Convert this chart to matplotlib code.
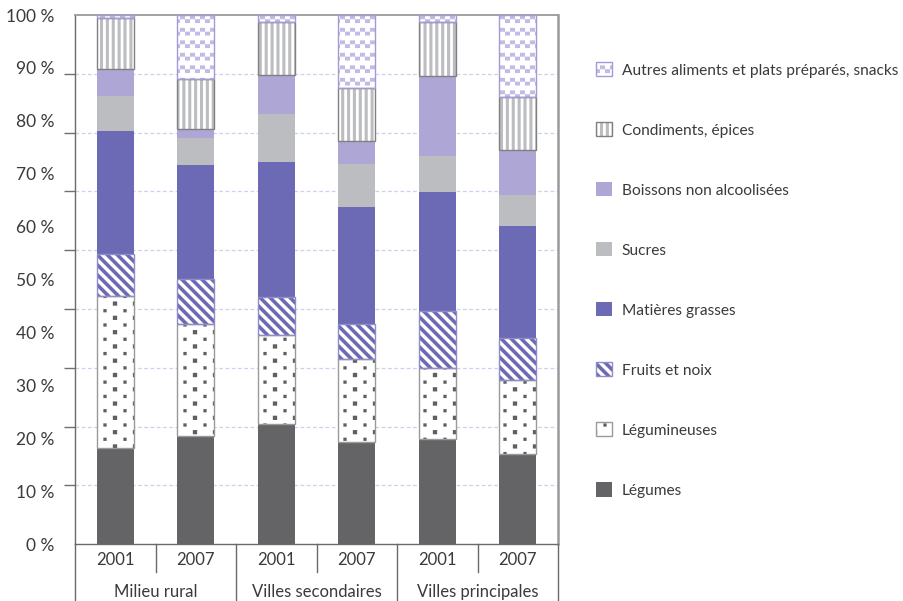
import numpy as np
import matplotlib
matplotlib.use('Agg')
import matplotlib.pyplot as plt
import matplotlib.hatch as mhatch
from matplotlib.path import Path
from matplotlib.patches import Patch
from matplotlib.legend_handler import HandlerTuple
from matplotlib.transforms import blended_transform_factory

# ---------------- data ----------------
groups = ['Milieu rural', 'Villes secondaires', 'Villes principales']
years = ['2001', '2007', '2001', '2007', '2001', '2007']
categories = ['Légumes', 'Légumineuses', 'Fruits et noix', 'Matières grasses',
              'Sucres', 'Boissons non alcoolisées', 'Condiments, épices',
              'Autres aliments et plats préparés, snacks']

legumes      = [18.2, 20.4, 22.7, 19.4, 19.9, 17.0]
legumineuses = [28.8, 21.3, 16.8, 15.6, 13.4, 14.1]
fruits       = [7.9, 8.5, 7.3, 6.7, 10.7, 7.8]
matieres     = [23.1, 21.4, 25.4, 22.0, 22.5, 21.3]
sucres       = [6.7, 5.1, 9.1, 8.1, 6.8, 5.8]
boissons     = [5.1, 1.8, 7.3, 4.4, 15.2, 8.5]
condiments   = [9.6, 9.5, 10.1, 10.1, 10.1, 10.0]
autres       = [0.6, 12.0, 1.3, 13.7, 1.4, 15.5]

series = [legumes, legumineuses, fruits, matieres, sucres, boissons, condiments, autres]
yticks = list(range(0, 101, 10))
ytick_labels = [f'{v} %' for v in yticks]

# ---------------- custom fill patterns ----------------
MOVETO, LINETO, CLOSE = Path.MOVETO, Path.LINETO, Path.CLOSEPOLY


class _PolyHatch(mhatch.HatchPatternBase):
    char = None

    def __init__(self, hatch, density):
        self.polys = self.make_polys() if (hatch and self.char in hatch) else []
        self.num_vertices = sum(len(p) + 1 for p in self.polys)

    def make_polys(self):
        return []

    def set_vertices_and_codes(self, vertices, codes):
        i = 0
        for p in self.polys:
            n = len(p)
            vertices[i:i + n] = p
            vertices[i + n] = p[0]
            codes[i] = MOVETO
            codes[i + 1:i + n] = LINETO
            codes[i + n] = CLOSE
            i += n + 1


class VStripes(_PolyHatch):
    char = '|'

    def make_polys(self):
        n, w = 17, 0.03
        return [[(k / n, -0.01), (k / n + w, -0.01), (k / n + w, 1.01), (k / n, 1.01)]
                for k in range(n + 1)]


class DStripes(_PolyHatch):
    char = '\\'

    def make_polys(self):
        p, w = 0.1, 0.05
        polys = []
        for k in range(-3, 24):
            a = k * p
            polys.append([(a + 0.1, -0.1), (a + 0.1 + w, -0.1),
                          (a + w - 1.1, 1.1), (a - 1.1, 1.1)])
        return polys


class SquareDots(_PolyHatch):
    char = 'o'

    def make_polys(self):
        polys = []
        rows, cols = 14, 5
        for r in range(rows):
            y = (r + 0.5) / rows
            h = 0.021 if r % 2 else 0.016
            for c in range(cols):
                x = (c + 0.5 * (r % 2) + 0.25) / cols
                polys.append([(x - h, y - h), (x + h, y - h), (x + h, y + h), (x - h, y + h)])
        return polys


class Wave(_PolyHatch):
    char = 'O'

    def make_polys(self):
        polys = []
        bands, per = 8, 10
        bh = 0.038
        for b in range(bands):
            y0 = b / bands + 0.02
            for c in range(per):
                x0 = c / per
                polys.append([(x0, y0 + bh), (x0 + 0.05, y0 + bh),
                              (x0 + 0.05, y0 + 2 * bh), (x0, y0 + 2 * bh)])
                polys.append([(x0 + 0.05, y0), (x0 + 0.1, y0),
                              (x0 + 0.1, y0 + bh), (x0 + 0.05, y0 + bh)])
        return polys


mhatch._hatch_types[:] = [VStripes, DStripes, SquareDots, Wave]
plt.rcParams['hatch.linewidth'] = 0.05

# ---------------- styles ----------------
plt.rcParams['font.family'] = ['Lato', 'DejaVu Sans']
TXT = '#3a3a3a'
styles = [
    dict(face='#646466', hatch=None, hcolor=None, edge=None),
    dict(face='white', hatch='o', hcolor='#5f5f61', edge='#9a9a9a'),
    dict(face='white', hatch='\\', hcolor='#6d6ab5', edge='#8f8cca'),
    dict(face='#6d6ab5', hatch=None, hcolor=None, edge=None),
    dict(face='#bcbdc0', hatch=None, hcolor=None, edge=None),
    dict(face='#aea7d6', hatch=None, hcolor=None, edge=None),
    dict(face='white', hatch='|', hcolor='#bcbdc0', edge='#808080'),
    dict(face='white', hatch='O', hcolor='#c4bbe4', edge='#a09bd5'),
]

fig = plt.figure(figsize=(9.04, 6.01), dpi=100)
ax = fig.add_axes([75 / 904, 1 - 544.3 / 601, (558 - 75) / 904, (544.3 - 15) / 601])

x = np.arange(len(years))
width = 0.46
bottom = np.zeros(len(years))
handles = []
for vals, st, name in zip(series, styles, categories):
    vals = np.asarray(vals, dtype=float)
    if st['hatch'] is None:
        ax.bar(x, vals, width, bottom=bottom, color=st['face'], linewidth=0, zorder=2)
        h = Patch(facecolor=st['face'], linewidth=0)
    else:
        ax.bar(x, vals, width, bottom=bottom, color=st['face'], edgecolor=st['hcolor'],
               linewidth=0, hatch=st['hatch'], zorder=2)
        ax.bar(x, vals, width, bottom=bottom, fill=False, edgecolor=st['edge'],
               linewidth=1.0, zorder=3)
        h1 = Patch(facecolor=st['face'], edgecolor=st['hcolor'], linewidth=0, hatch=st['hatch'])
        h2 = Patch(fill=False, edgecolor=st['edge'], linewidth=1.0)
        h = (h1, h2)
    handles.append(h)
    bottom += vals

ax.set_xlim(-0.5, len(years) - 0.5)
ax.set_ylim(0, 100)

# y axis: labels every 10 %, ticks/gridlines on a 9-step grid as in the reference
ax.set_yticks(yticks)
ax.set_yticklabels(ytick_labels)
ax.set_yticks([k * 100 / 9 for k in range(10)], minor=True)
ax.tick_params(axis='y', which='major', length=0, pad=14.5, labelsize=12.5, labelcolor=TXT)
ax.tick_params(axis='y', which='minor', length=8, width=1, color='#707070', direction='out')
ax.yaxis.grid(True, which='minor', color='#c9d3ec', linestyle=(0, (3, 2)), linewidth=0.9)
ax.yaxis.grid(False, which='major')
ax.set_axisbelow(True)
ax.set_xticks([])

for s in ['left', 'bottom']:
    ax.spines[s].set_color('#6a6a6a')
    ax.spines[s].set_linewidth(1.0)
ax.spines['top'].set_color('#9a9a9a')
ax.spines['top'].set_linewidth(1.3)
ax.spines['right'].set_color('#9a9a9a')
ax.spines['right'].set_linewidth(1.8)

# category table below the axis
tr = blended_transform_factory(ax.transData, ax.transAxes)
for i, yr in enumerate(years):
    ax.text(i, -0.029, yr, transform=tr, ha='center', va='center', fontsize=12, color=TXT)
for i in range(1, len(years)):
    if i % 2 == 1:
        ax.plot([i - 0.5, i - 0.5], [0, -0.053], transform=tr, color='#6a6a6a', lw=1, clip_on=False)
for g, name in enumerate(groups):
    ax.text(2 * g + 0.5, -0.09, name, transform=tr, ha='center', va='center', fontsize=12, color=TXT)
for xb in [-0.5, 1.5, 3.5, 5.5]:
    ax.plot([xb, xb], [0, -0.11], transform=tr, color='#6a6a6a', lw=1, clip_on=False)

# legend
leg = ax.legend(handles[::-1], categories[::-1], loc='upper left',
                bbox_to_anchor=(596 / 904, 1 - 62 / 601), bbox_transform=fig.transFigure,
                frameon=False, fontsize=11.2, handlelength=1.05, handleheight=1.05,
                handletextpad=0.6, labelspacing=2.86, borderpad=0, borderaxespad=0,
                handler_map={tuple: HandlerTuple(ndivide=1, pad=0)})
for t in leg.get_texts():
    t.set_color(TXT)

fig.savefig('out.png', dpi=100)
